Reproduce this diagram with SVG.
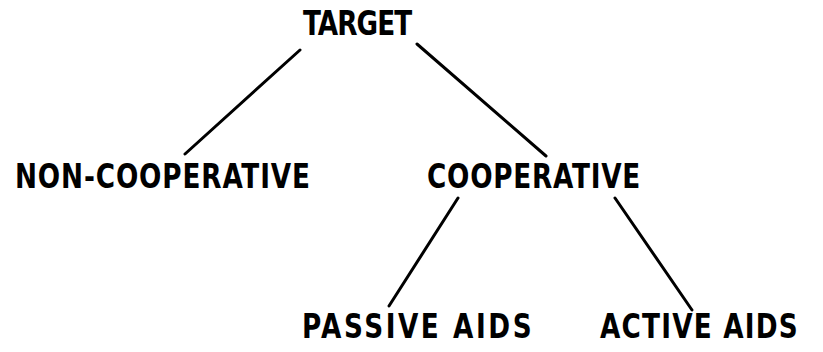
<svg xmlns="http://www.w3.org/2000/svg" width="823" height="352" viewBox="0 0 823 352">
<style>
text{font-family:"DejaVu Sans Condensed","DejaVu Sans","Liberation Sans",sans-serif;font-size:34px;font-weight:bold;fill:#000}
.c{stroke:#000;stroke-width:3;stroke-linecap:round;fill:none}
</style>
<rect width="823" height="352" fill="#fff"/>
<g id="connectors">
<line class="c" x1="300" y1="50" x2="185" y2="154"/>
<line class="c" x1="417" y1="44" x2="546" y2="156"/>
<line class="c" x1="458" y1="198" x2="389" y2="306"/>
<line class="c" x1="615" y1="198" x2="692" y2="310"/>
</g>
<g id="target" transform="translate(303,35) scale(0.86,1)"><text x="0" y="0" textLength="127" lengthAdjust="spacing">TARGET</text></g>
<g id="non-cooperative" transform="translate(15,188) scale(0.86,1)"><text x="0" y="0" textLength="343" lengthAdjust="spacing">NON-COOPERATIVE</text></g>
<g id="cooperative" transform="translate(427,188) scale(0.86,1)"><text x="0" y="0" textLength="248" lengthAdjust="spacing">COOPERATIVE</text></g>
<g id="passive-aids" transform="translate(302,338) scale(0.86,1)"><text x="0" y="0" textLength="267" lengthAdjust="spacing">PASSIVE AIDS</text></g>
<g id="active-aids" transform="translate(600,338) scale(0.86,1)"><text x="0" y="0" textLength="230" lengthAdjust="spacing">ACTIVE AIDS</text></g>
</svg>
